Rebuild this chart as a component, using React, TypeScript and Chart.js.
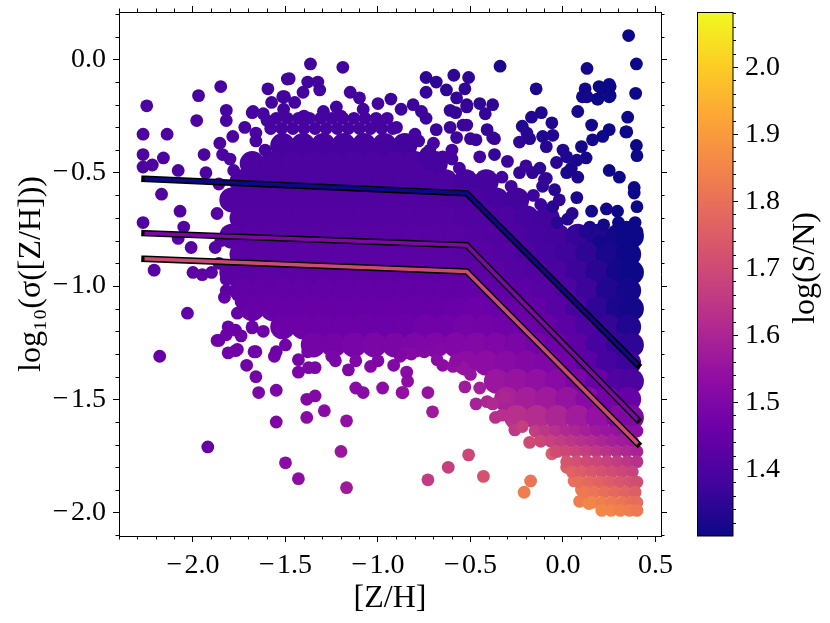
import React, { useEffect, useRef } from "react";
import { Chart, registerables } from "chart.js";

Chart.register(...registerables);

// ---------- axes & ticks ----------
const xRange = [-2.4, 0.53];
const yRange = [-2.103, 0.209];
const cbRange = [1.3, 2.082];
const xTicks = [-2.0, -1.5, -1.0, -0.5, 0.0, 0.5];
const yTicks = [-2.0, -1.5, -1.0, -0.5, 0.0];
const cbTicks = [1.4, 1.5, 1.6, 1.7, 1.8, 1.9, 2.0];
const xLabel = "[Z/H]";
const yLabel = "log₁₀(σ([Z/H]))";
const cbLabel = "log(S/N)";

// ---------- fitted broken lines ----------
const fitX = [-2.262, -0.52, 0.404];
const fitHigh = [-0.527, -0.591, -1.348];
const fitMid = [-0.767, -0.82, -1.59];
const fitLow = [-0.88, -0.936, -1.696];
const fitC = [1.3, 1.5, 1.7];

// ---------- individual (sparse) measurements: [Z/H], log sigma, log S/N ----------
const scatterPoints: [number, number, number][] = [
  [-2.25, -0.205, 1.4], [-2.27, -0.33, 1.4], [-2.14, -0.33, 1.4], [-2.27, -0.42, 1.4],
  [-2.16, -0.435, 1.4], [-2.27, -0.475, 1.4], [-2.22, -0.466, 1.4], [-2.08, -0.49, 1.4],
  [-1.93, -0.5, 1.4], [-1.94, -0.42, 1.4], [-2.17, -0.595, 1.41], [-2.07, -0.67, 1.41],
  [-2.27, -0.72, 1.41], [-2.05, -0.74, 1.41], [-1.97, -0.16, 1.39], [-1.85, -0.12, 1.39],
  [-1.98, -0.27, 1.4], [-1.82, -0.225, 1.39], [-1.82, -0.27, 1.39], [-1.68, -0.235, 1.39],
  [-1.595, -0.13, 1.38], [-1.49, -0.087, 1.38], [-1.515, -0.165, 1.38], [-1.855, -0.37, 1.4],
  [-1.785, -0.34, 1.4], [-1.66, -0.325, 1.4], [-2.01, -0.83, 1.42], [-1.88, -0.83, 1.42],
  [-2.08, -0.79, 1.42], [-2.21, -0.93, 1.42], [-2.0, -0.94, 1.43], [-1.95, -0.95, 1.43],
  [-1.9, -0.94, 1.43], [-1.82, -0.97, 1.43], [-1.82, -1.02, 1.43], [-1.74, -1.07, 1.44],
  [-2.03, -1.12, 1.44], [-1.81, -1.18, 1.45], [-1.86, -1.24, 1.45], [-1.76, -1.28, 1.46],
  [-1.68, -1.18, 1.45], [-1.66, -1.29, 1.46], [-1.55, -1.29, 1.46], [-2.18, -1.31, 1.45],
  [-1.87, -1.24, 1.46], [-1.82, -1.215, 1.46], [-1.77, -1.195, 1.46], [-1.74, -1.22, 1.46],
  [-1.68, -1.185, 1.46], [-1.81, -1.295, 1.47], [-1.77, -1.285, 1.47], [-1.71, -1.35, 1.47],
  [-1.67, -1.29, 1.47], [-1.66, -1.4, 1.48], [-1.56, -1.31, 1.47], [-1.645, -1.47, 1.49],
  [-1.55, -1.46, 1.49], [-1.55, -1.6, 1.5], [-1.385, -1.5, 1.51], [-1.34, -1.485, 1.51],
  [-1.385, -1.58, 1.52], [-1.29, -1.55, 1.52], [-1.17, -1.595, 1.54], [-1.92, -1.71, 1.45],
  [-1.5, -1.78, 1.52], [-1.43, -1.85, 1.53], [-1.2, -1.73, 1.56], [-1.17, -1.89, 1.57],
  [-1.43, -1.38, 1.49], [-1.43, -1.325, 1.48], [-1.34, -1.36, 1.49], [-1.375, -1.36, 1.49],
  [-1.23, -1.33, 1.49], [-1.16, -1.37, 1.5], [-1.12, -1.45, 1.52], [-1.08, -1.47, 1.52],
  [-0.975, -1.45, 1.53], [-0.87, -1.47, 1.54], [-0.84, -1.42, 1.53], [-0.845, -1.38, 1.52],
  [-1.04, -1.355, 1.51], [-0.915, -1.35, 1.51],
  [-0.73, -1.47, 1.55], [-0.705, -1.555, 1.57], [-0.51, -1.745, 1.69], [-0.62, -1.8, 1.67],
  [-0.73, -1.855, 1.66], [-0.43, -1.84, 1.72], [-0.175, -1.86, 1.81], [-0.21, -1.91, 1.83],
  [-0.365, -1.58, 1.63], [-0.315, -1.49, 1.6], [-0.06, -1.74, 1.75], [0.09, -1.95, 1.83],
  [-0.855, -1.295, 1.51], [-0.82, -1.3, 1.51], [-0.75, -1.29, 1.51], [-0.865, -1.47, 1.54],
  [-0.68, -1.325, 1.52], [-0.65, -1.35, 1.53], [-0.595, -1.355, 1.54], [-0.54, -1.36, 1.55],
  [-0.53, -1.445, 1.57], [-0.47, -1.52, 1.59], [-0.41, -1.51, 1.6], [-0.26, -1.635, 1.65],
  [-0.18, -1.69, 1.7],
  [-0.45, -1.45, 1.58], [-0.38, -1.52, 1.61], [-0.33, -1.57, 1.63], [-0.22, -1.62, 1.67],
  [-0.12, -1.68, 1.71], [-0.03, -1.73, 1.74], [0.02, -1.8, 1.755], [0.06, -1.86, 1.8],
  [0.1, -1.9, 1.82], [0.14, -1.96, 1.85],
  [0.355, 0.105, 1.3], [0.397, -0.02, 1.3], [0.393, -0.15, 1.3], [0.13, -0.04, 1.31],
  [0.12, -0.13, 1.31], [0.105, -0.165, 1.31], [0.21, -0.13, 1.3], [0.255, -0.12, 1.3],
  [0.255, -0.16, 1.3], [0.185, -0.175, 1.3], [0.08, -0.23, 1.31], [0.35, -0.255, 1.3],
  [0.34, -0.32, 1.3], [0.155, -0.29, 1.31], [0.25, -0.31, 1.3], [0.215, -0.34, 1.3],
  [0.397, -0.38, 1.3], [-0.34, -0.03, 1.32], [-0.145, -0.13, 1.32], [-0.117, -0.235, 1.33],
  [-0.17, -0.255, 1.33], [-0.06, -0.28, 1.33], [-0.22, -0.295, 1.33], [-0.11, -0.34, 1.33],
  [-0.055, -0.335, 1.33], [-0.18, -0.35, 1.34], [-0.74, -0.08, 1.35], [-0.685, -0.1, 1.35],
  [-0.59, -0.07, 1.35], [-0.51, -0.08, 1.35], [-0.53, -0.13, 1.35], [-0.74, -0.145, 1.36],
  [-0.63, -0.135, 1.35], [-0.575, -0.17, 1.36], [-0.52, -0.2, 1.36], [-0.45, -0.195, 1.35],
  [-0.38, -0.2, 1.35], [-0.42, -0.24, 1.36], [-0.58, -0.235, 1.36], [-0.61, -0.3, 1.37],
  [-0.52, -0.29, 1.37], [-0.685, -0.31, 1.37], [-0.5, -0.35, 1.37], [-0.41, -0.31, 1.36],
  [-0.37, -0.35, 1.37], [-1.365, -0.02, 1.38], [-1.19, -0.035, 1.38], [-1.48, -0.085, 1.38],
  [-1.38, -0.1, 1.38], [-1.325, -0.1, 1.38], [-1.405, -0.145, 1.38], [-1.315, -0.135, 1.38],
  [-1.15, -0.145, 1.38], [-1.505, -0.165, 1.38], [-1.575, -0.19, 1.38], [-1.45, -0.19, 1.38],
  [-1.1, -0.17, 1.38], [-0.93, -0.175, 1.37], [-1.0, -0.195, 1.38], [-0.81, -0.2, 1.37],
  [-0.875, -0.22, 1.37], [-0.765, -0.23, 1.37], [-1.08, -0.22, 1.38], [-1.225, -0.21, 1.38],
  [-1.295, -0.23, 1.38], [-1.675, -0.23, 1.39], [-1.62, -0.24, 1.39], [-1.51, -0.22, 1.38],
  [-0.74, -0.26, 1.37],
  [0.195, -0.12, 1.3], [0.25, -0.11, 1.3], [0.13, -0.165, 1.31], [0.19, -0.175, 1.3],
  [0.25, -0.165, 1.3], [0.345, -0.32, 1.3], [0.16, -0.355, 1.31], [0.4, -0.425, 1.3],
  [0.1, -0.385, 1.31], [0.125, -0.435, 1.31], [0.045, -0.48, 1.32], [0.02, -0.5, 1.32],
  [0.08, -0.52, 1.32], [0.25, -0.49, 1.3], [0.305, -0.52, 1.3], [0.385, -0.565, 1.3],
  [0.385, -0.59, 1.3], [0.4, -0.65, 1.3], [0.075, -0.61, 1.32], [0.155, -0.67, 1.31],
  [0.235, -0.66, 1.31], [0.295, -0.67, 1.3], [0.025, -0.705, 1.33], [0.145, -0.74, 1.32],
  [0.3, -0.72, 1.3], [0.345, -0.74, 1.3], [0.4, -0.76, 1.3], [0.315, -0.8, 1.3],
  [0.2, -0.805, 1.31], [-0.03, -0.72, 1.34], [-0.055, -0.65, 1.34], [-0.11, -0.56, 1.35],
  [-0.045, -0.575, 1.34], [-0.09, -0.525, 1.35], [-0.165, -0.5, 1.35], [-0.235, -0.5, 1.36],
  [-0.125, -0.48, 1.35], [-0.035, -0.455, 1.34], [0.02, -0.43, 1.33], [-0.235, -0.365, 1.35],
  [-0.195, -0.325, 1.34], [-0.09, -0.385, 1.34], [0.0, -0.4, 1.33], [0.075, -0.445, 1.32],
  [-0.37, -0.42, 1.36], [-0.47, -0.355, 1.37], [-0.38, -0.345, 1.36], [-0.54, -0.29, 1.37],
  [-0.61, -0.225, 1.36], [-0.52, -0.21, 1.36], [-0.74, -0.415, 1.38], [-0.65, -0.43, 1.38],
  [-0.575, -0.345, 1.37],
  [-1.72, -0.3, 1.39], [-1.6, -0.27, 1.39], [-1.4, -0.25, 1.39], [-1.2, -0.25, 1.39],
  [-1.0, -0.27, 1.39], [-0.9, -0.3, 1.39], [-0.8, -0.33, 1.39], [-0.7, -0.37, 1.39],
  [-0.6, -0.4, 1.39], [-0.45, -0.43, 1.38], [-0.3, -0.45, 1.37], [-0.2, -0.47, 1.37],
  [-0.1, -0.53, 1.36], [-0.02, -0.62, 1.35], [0.05, -0.68, 1.34], [0.12, -0.76, 1.33],
  [0.22, -0.73, 1.31], [0.32, -0.75, 1.3], [0.39, -0.72, 1.3],
  [-1.84, -0.42, 1.4], [-1.86, -0.55, 1.41], [-1.87, -0.68, 1.42], [-1.85, -0.8, 1.42],
  [-1.86, -0.9, 1.43], [-1.83, -1.05, 1.44], [-1.76, -1.12, 1.45],
  [-1.62, -1.2, 1.46], [-1.5, -1.26, 1.47], [-1.38, -1.29, 1.48], [-1.25, -1.31, 1.49],
  [-1.12, -1.33, 1.5], [-1.0, -1.33, 1.5], [-0.88, -1.31, 1.5], [-0.76, -1.26, 1.5],
  [-0.66, -1.28, 1.51], [-0.58, -1.33, 1.53], [-0.5, -1.39, 1.55],
];

// ---------- rim of the crowded cloud (upper edge and the low-sigma, high-S/N corner) ----------
const rimPoints: [number, number, number][] = [
  [-1.55, -0.26, 1.39], [-1.49, -0.26, 1.39], [-1.43, -0.26, 1.39], [-1.37, -0.26, 1.39], [-1.31, -0.26, 1.39],
  [-1.25, -0.26, 1.39], [-1.19, -0.26, 1.39], [-1.13, -0.26, 1.39], [-1.07, -0.26, 1.39], [-1.01, -0.26, 1.39],
  [-0.95, -0.26, 1.39],
  [-1.58, -0.305, 1.39], [-1.52, -0.305, 1.39], [-1.46, -0.305, 1.39], [-1.4, -0.305, 1.39], [-1.34, -0.305, 1.39],
  [-1.28, -0.305, 1.39], [-1.22, -0.305, 1.39], [-1.16, -0.305, 1.39], [-1.1, -0.305, 1.39], [-1.04, -0.305, 1.39],
  [-0.98, -0.305, 1.39], [-0.92, -0.305, 1.39],
  [-1.66, -0.36, 1.39], [-1.61, -0.4, 1.39], [-0.78, -0.36, 1.38], [-0.72, -0.4, 1.38], [-0.75, -0.44, 1.39],
  [-1.8, -0.44, 1.4], [-1.78, -0.49, 1.4], [-0.6, -0.44, 1.39], [-0.56, -0.48, 1.39],
  [-0.33, -0.52, 1.38], [-0.28, -0.56, 1.38], [-0.16, -0.6, 1.37], [-0.12, -0.64, 1.37],
  [-0.15, -1.64, 1.66], [-0.095, -1.64, 1.645], [-0.04, -1.64, 1.63], [0.015, -1.64, 1.61], [0.07, -1.64, 1.6],
  [0.125, -1.64, 1.585], [0.18, -1.64, 1.57], [0.235, -1.64, 1.56], [0.29, -1.64, 1.55], [0.345, -1.64, 1.54],
  [0.4, -1.64, 1.53],
  [-0.12, -1.685, 1.69], [-0.065, -1.685, 1.675], [-0.01, -1.685, 1.66], [0.045, -1.685, 1.645], [0.1, -1.685, 1.63],
  [0.155, -1.685, 1.615], [0.21, -1.685, 1.6], [0.265, -1.685, 1.585], [0.32, -1.685, 1.575], [0.375, -1.685, 1.565],
  [-0.04, -1.73, 1.705], [0.015, -1.73, 1.69], [0.07, -1.73, 1.68], [0.125, -1.73, 1.665], [0.18, -1.73, 1.65],
  [0.235, -1.73, 1.635], [0.29, -1.73, 1.62], [0.345, -1.73, 1.605], [0.4, -1.73, 1.59],
  [0.02, -1.775, 1.73], [0.075, -1.775, 1.715], [0.13, -1.775, 1.7], [0.185, -1.775, 1.69], [0.24, -1.775, 1.675],
  [0.295, -1.775, 1.66], [0.35, -1.775, 1.645], [0.4, -1.775, 1.63],
  [0.05, -1.82, 1.765], [0.1, -1.82, 1.75], [0.155, -1.82, 1.735], [0.21, -1.82, 1.72], [0.265, -1.82, 1.705],
  [0.32, -1.82, 1.69], [0.375, -1.82, 1.68],
  [0.085, -1.865, 1.795], [0.14, -1.865, 1.78], [0.195, -1.865, 1.765], [0.25, -1.865, 1.75], [0.305, -1.865, 1.735],
  [0.36, -1.865, 1.72], [0.4, -1.865, 1.71],
  [0.12, -1.91, 1.82], [0.17, -1.91, 1.81], [0.225, -1.91, 1.795], [0.28, -1.91, 1.78], [0.335, -1.91, 1.77],
  [0.39, -1.91, 1.755],
  [0.16, -1.955, 1.85], [0.21, -1.955, 1.835], [0.265, -1.955, 1.82], [0.32, -1.955, 1.81], [0.37, -1.955, 1.795],
  [0.4, -1.955, 1.79],
  [0.21, -1.99, 1.855], [0.26, -1.99, 1.85], [0.31, -1.99, 1.84], [0.36, -1.99, 1.83], [0.4, -1.99, 1.82],
];

// ---------- the crowded core of the cloud: [Z/H], log sigma, log S/N ----------
const corePoints: [number, number, number][] = [
  [-1.515, -0.38, 1.39], [-1.405, -0.38, 1.39], [-1.295, -0.38, 1.39],
  [-1.185, -0.38, 1.39], [-1.075, -0.38, 1.39], [-0.965, -0.38, 1.39], [-0.855, -0.38, 1.38],
  [-1.68, -0.46, 1.4], [-1.57, -0.46, 1.4], [-1.46, -0.46, 1.4], [-1.35, -0.46, 1.4],
  [-1.24, -0.46, 1.4], [-1.13, -0.46, 1.4], [-1.02, -0.46, 1.4], [-0.91, -0.46, 1.4], [-0.8, -0.46, 1.4],
  [-0.69, -0.46, 1.39],
  [-1.735, -0.54, 1.4], [-1.625, -0.54, 1.4], [-1.515, -0.54, 1.4], [-1.405, -0.54, 1.4], [-1.295, -0.54, 1.4],
  [-1.185, -0.54, 1.4], [-1.075, -0.54, 1.4], [-0.965, -0.54, 1.4], [-0.855, -0.54, 1.4], [-0.745, -0.54, 1.4],
  [-0.635, -0.54, 1.4], [-0.525, -0.54, 1.39], [-0.415, -0.54, 1.385],
  [-1.79, -0.62, 1.41], [-1.68, -0.62, 1.41], [-1.57, -0.62, 1.41], [-1.46, -0.62, 1.41], [-1.35, -0.62, 1.41],
  [-1.24, -0.62, 1.41], [-1.13, -0.62, 1.41], [-1.02, -0.62, 1.41], [-0.91, -0.62, 1.41], [-0.8, -0.62, 1.41],
  [-0.69, -0.62, 1.41], [-0.58, -0.62, 1.4], [-0.47, -0.62, 1.395], [-0.36, -0.62, 1.39], [-0.25, -0.62, 1.38],
  [-1.735, -0.7, 1.415], [-1.625, -0.7, 1.415], [-1.515, -0.7, 1.415], [-1.405, -0.7, 1.415], [-1.295, -0.7, 1.415],
  [-1.185, -0.7, 1.415], [-1.075, -0.7, 1.415], [-0.965, -0.7, 1.415], [-0.855, -0.7, 1.415], [-0.745, -0.7, 1.415],
  [-0.635, -0.7, 1.415], [-0.525, -0.7, 1.41], [-0.415, -0.7, 1.405], [-0.305, -0.7, 1.4], [-0.195, -0.7, 1.39],
  [-0.085, -0.7, 1.38],
  [-1.79, -0.78, 1.42], [-1.68, -0.78, 1.42], [-1.57, -0.78, 1.42], [-1.46, -0.78, 1.42], [-1.35, -0.78, 1.42],
  [-1.24, -0.78, 1.42], [-1.13, -0.78, 1.42], [-1.02, -0.78, 1.42], [-0.91, -0.78, 1.42], [-0.8, -0.78, 1.42],
  [-0.69, -0.78, 1.42], [-0.58, -0.78, 1.42], [-0.47, -0.78, 1.415], [-0.36, -0.78, 1.41], [-0.25, -0.78, 1.4],
  [-0.14, -0.78, 1.39], [-0.03, -0.78, 1.38], [0.08, -0.78, 1.36], [0.19, -0.78, 1.33], [0.3, -0.78, 1.31],
  [0.37, -0.78, 1.3],
  [-1.735, -0.86, 1.425], [-1.625, -0.86, 1.425], [-1.515, -0.86, 1.425], [-1.405, -0.86, 1.425], [-1.295, -0.86, 1.425],
  [-1.185, -0.86, 1.425], [-1.075, -0.86, 1.425], [-0.965, -0.86, 1.425], [-0.855, -0.86, 1.425], [-0.745, -0.86, 1.425],
  [-0.635, -0.86, 1.425], [-0.525, -0.86, 1.42], [-0.415, -0.86, 1.42], [-0.305, -0.86, 1.415], [-0.195, -0.86, 1.4],
  [-0.085, -0.86, 1.39], [0.025, -0.86, 1.375], [0.135, -0.86, 1.35], [0.245, -0.86, 1.32], [0.355, -0.86, 1.3],
  [-1.79, -0.94, 1.43], [-1.68, -0.94, 1.43], [-1.57, -0.94, 1.43], [-1.46, -0.94, 1.43], [-1.35, -0.94, 1.43],
  [-1.24, -0.94, 1.43], [-1.13, -0.94, 1.43], [-1.02, -0.94, 1.43], [-0.91, -0.94, 1.43], [-0.8, -0.94, 1.43],
  [-0.69, -0.94, 1.43], [-0.58, -0.94, 1.43], [-0.47, -0.94, 1.43], [-0.36, -0.94, 1.425], [-0.25, -0.94, 1.415],
  [-0.14, -0.94, 1.41], [-0.03, -0.94, 1.395], [0.08, -0.94, 1.37], [0.19, -0.94, 1.34], [0.3, -0.94, 1.31],
  [0.37, -0.94, 1.3],
  [-1.735, -1.02, 1.44], [-1.625, -1.02, 1.44], [-1.515, -1.02, 1.44], [-1.405, -1.02, 1.44], [-1.295, -1.02, 1.44],
  [-1.185, -1.02, 1.44], [-1.075, -1.02, 1.44], [-0.965, -1.02, 1.44], [-0.855, -1.02, 1.44], [-0.745, -1.02, 1.44],
  [-0.635, -1.02, 1.44], [-0.525, -1.02, 1.44], [-0.415, -1.02, 1.44], [-0.305, -1.02, 1.435], [-0.195, -1.02, 1.43],
  [-0.085, -1.02, 1.42], [0.025, -1.02, 1.4], [0.135, -1.02, 1.37], [0.245, -1.02, 1.33], [0.355, -1.02, 1.31],
  [-1.68, -1.1, 1.45], [-1.57, -1.1, 1.45], [-1.46, -1.1, 1.45], [-1.35, -1.1, 1.45], [-1.24, -1.1, 1.45],
  [-1.13, -1.1, 1.45], [-1.02, -1.1, 1.45], [-0.91, -1.1, 1.45], [-0.8, -1.1, 1.45], [-0.69, -1.1, 1.45],
  [-0.58, -1.1, 1.455], [-0.47, -1.1, 1.46], [-0.36, -1.1, 1.455], [-0.25, -1.1, 1.45], [-0.14, -1.1, 1.44],
  [-0.03, -1.1, 1.42], [0.08, -1.1, 1.39], [0.19, -1.1, 1.35], [0.3, -1.1, 1.32], [0.37, -1.1, 1.31],
  [-1.515, -1.18, 1.46], [-1.405, -1.18, 1.46], [-1.295, -1.18, 1.46], [-1.185, -1.18, 1.46], [-1.075, -1.18, 1.46],
  [-0.965, -1.18, 1.46], [-0.855, -1.18, 1.46], [-0.745, -1.18, 1.47], [-0.635, -1.18, 1.47], [-0.525, -1.18, 1.48],
  [-0.415, -1.18, 1.475], [-0.305, -1.18, 1.47], [-0.195, -1.18, 1.46], [-0.085, -1.18, 1.45], [0.025, -1.18, 1.43],
  [0.135, -1.18, 1.4], [0.245, -1.18, 1.36], [0.355, -1.18, 1.33],
  [-1.35, -1.26, 1.48], [-1.24, -1.26, 1.48], [-1.13, -1.26, 1.485], [-1.02, -1.26, 1.49], [-0.91, -1.26, 1.49],
  [-0.8, -1.26, 1.495], [-0.69, -1.26, 1.5], [-0.58, -1.26, 1.505], [-0.47, -1.26, 1.51], [-0.36, -1.26, 1.5],
  [-0.25, -1.26, 1.49], [-0.14, -1.26, 1.48], [-0.03, -1.26, 1.46], [0.08, -1.26, 1.43], [0.19, -1.26, 1.39],
  [0.3, -1.26, 1.36], [0.37, -1.26, 1.35],
  [-0.525, -1.34, 1.53], [-0.415, -1.34, 1.53], [-0.305, -1.34, 1.52], [-0.195, -1.34, 1.51], [-0.085, -1.34, 1.5],
  [0.025, -1.34, 1.47], [0.135, -1.34, 1.43], [0.245, -1.34, 1.39], [0.355, -1.34, 1.37],
  [-0.36, -1.42, 1.56], [-0.25, -1.42, 1.55], [-0.14, -1.42, 1.54], [-0.03, -1.42, 1.52], [0.08, -1.42, 1.49],
  [0.19, -1.42, 1.45], [0.3, -1.42, 1.41], [0.37, -1.42, 1.4],
  [-0.305, -1.5, 1.59], [-0.195, -1.5, 1.58], [-0.085, -1.5, 1.57], [0.025, -1.5, 1.55], [0.135, -1.5, 1.52],
  [0.245, -1.5, 1.48], [0.355, -1.5, 1.45],
  [-0.25, -1.58, 1.63], [-0.14, -1.58, 1.62], [-0.03, -1.58, 1.6], [0.08, -1.58, 1.575], [0.19, -1.58, 1.545],
  [0.3, -1.58, 1.51], [0.37, -1.58, 1.5],
];

// ---------- plasma colormap ----------
const PLASMA = [
  [13, 8, 135], [65, 4, 157], [106, 0, 168], [143, 13, 164], [177, 42, 144],
  [204, 71, 120], [225, 100, 98], [242, 132, 75], [252, 166, 54], [252, 206, 37], [240, 249, 33],
];
function plasma(t: number): string {
  const u = Math.min(1, Math.max(0, t)) * (PLASMA.length - 1);
  const i = Math.min(PLASMA.length - 2, Math.floor(u));
  const f = u - i;
  const a = PLASMA[i], b = PLASMA[i + 1];
  const r = Math.round(a[0] + (b[0] - a[0]) * f);
  const g = Math.round(a[1] + (b[1] - a[1]) * f);
  const bl = Math.round(a[2] + (b[2] - a[2]) * f);
  return `rgb(${r},${g},${bl})`;
}
const colorOf = (c: number) => plasma((c - cbRange[0]) / (cbRange[1] - cbRange[0]));

const FONT = "'Liberation Serif', 'DejaVu Serif', serif";
const fmt = (v: number) => (v < -1e-9 ? "\u2212\u200A" : "") + Math.abs(v).toFixed(1);

const decorPlugin = {
  id: "decor",
  afterDraw(chart: any) {
    const ctx: CanvasRenderingContext2D = chart.ctx;
    const { left, right, top, bottom } = chart.chartArea;
    const xs = chart.scales.x;
    const ys = chart.scales.y;
    ctx.save();
    ctx.strokeStyle = "#000";
    ctx.lineWidth = 1;
    const seg = (x1: number, y1: number, x2: number, y2: number) => {
      ctx.beginPath();
      ctx.moveTo(x1, y1);
      ctx.lineTo(x2, y2);
      ctx.stroke();
    };
    // minor ticks on all four sides
    for (let k = -24; k <= 5; k++) {
      if (k % 5 === 0) continue;
      const p = Math.round(xs.getPixelForValue(k / 10)) + 0.5;
      if (p < left || p > right) continue;
      seg(p, bottom, p, bottom + 3.5);
      seg(p, top, p, top - 3.5);
    }
    for (let k = -21; k <= 2; k++) {
      if (k % 5 === 0) continue;
      const p = Math.round(ys.getPixelForValue(k / 10)) + 0.5;
      if (p < top || p > bottom) continue;
      seg(left, p, left - 3.5, p);
      seg(right, p, right + 3.5, p);
    }
    // colour bar
    const cbL = 697.5, cbR = 733;
    const grad = ctx.createLinearGradient(0, bottom, 0, top);
    PLASMA.forEach((c, i) => grad.addColorStop(i / (PLASMA.length - 1), `rgb(${c[0]},${c[1]},${c[2]})`));
    ctx.fillStyle = grad;
    ctx.fillRect(cbL, top, cbR - cbL, bottom - top);
    ctx.strokeRect(cbL, top + 0.5, cbR - cbL, bottom - top - 0.5);
    const cbPix = (v: number) => bottom - ((v - cbRange[0]) / (cbRange[1] - cbRange[0])) * (bottom - top);
    for (let k = 66; k <= 104; k++) {
      const v = k / 50;
      if (v > cbRange[1]) break;
      const p = Math.round(cbPix(v)) + 0.5;
      const major = k % 5 === 0;
      seg(cbR, p, cbR + (major ? 5 : 3), p);
    }
    ctx.fillStyle = "#000";
    ctx.font = `28px ${FONT}`;
    ctx.textAlign = "left";
    ctx.textBaseline = "middle";
    cbTicks.forEach((v) => ctx.fillText(fmt(v), cbR + 12, cbPix(v) + 1));
    ctx.translate(806, (top + bottom) / 2 - 6);
    ctx.rotate(-Math.PI / 2);
    ctx.font = `32px ${FONT}`;
    ctx.textAlign = "center";
    ctx.textBaseline = "middle";
    ctx.fillText(cbLabel, 0, 0);
    ctx.restore();
  },
};

const noPad = (s: any) => {
  s.paddingTop = 0;
  s.paddingBottom = 0;
  s.paddingLeft = 0;
  s.paddingRight = 0;
};

export default function App() {
  const ref = useRef<HTMLCanvasElement | null>(null);
  useEffect(() => {
    if (!ref.current) return;
    Chart.defaults.font.family = FONT;
    Chart.defaults.color = "#000";
    const lineDs = (ys: number[], color: string, width: number, cap: string, order: number) => ({
      type: "line" as const,
      data: fitX.map((x, i) => ({ x, y: ys[i] })),
      borderColor: color,
      borderWidth: width,
      borderCapStyle: cap,
      borderJoinStyle: "miter",
      pointRadius: 0,
      fill: false,
      tension: 0,
      showLine: true,
      order,
    });
    const axisCommon = {
      type: "linear" as const,
      border: { display: true, color: "#000", width: 1 },
      grid: { drawOnChartArea: false, drawTicks: true, tickLength: 6, color: "#000", tickColor: "#000", lineWidth: 1 },
    };
    const small = [...scatterPoints, ...rimPoints];
    const chart = new Chart(ref.current, {
      type: "scatter",
      data: {
        datasets: [
          {
            data: corePoints.map((p) => ({ x: p[0], y: p[1] })),
            pointBackgroundColor: corePoints.map((p) => colorOf(p[2])),
            pointBorderWidth: 0,
            pointRadius: 12.5,
            order: 10,
          } as any,
          {
            data: small.map((p) => ({ x: p[0], y: p[1] })),
            pointBackgroundColor: small.map((p) => colorOf(p[2])),
            pointBorderWidth: 0,
            pointRadius: 6.4,
            order: 9,
          } as any,
          lineDs(fitHigh, "#000", 6.5, "square", 6) as any,
          lineDs(fitHigh, colorOf(fitC[0]), 3.5, "butt", 5) as any,
          lineDs(fitMid, "#000", 6.5, "square", 4) as any,
          lineDs(fitMid, colorOf(fitC[1]), 3.5, "butt", 3) as any,
          lineDs(fitLow, "#000", 6.5, "square", 2) as any,
          lineDs(fitLow, colorOf(fitC[2]), 3.5, "butt", 1) as any,
        ],
      },
      options: {
        animation: false,
        responsive: true,
        maintainAspectRatio: false,
        events: [],
        layout: { padding: 0, autoPadding: false },
        plugins: { legend: { display: false }, tooltip: { enabled: false } },
        scales: {
          x: {
            ...axisCommon,
            position: "bottom",
            min: xRange[0],
            max: xRange[1],
            afterBuildTicks: (s: any) => { s.ticks = xTicks.map((v) => ({ value: v })); },
            afterFit: (s: any) => { s.height = 87; noPad(s); },
            ticks: { callback: (v: any) => fmt(Number(v)), font: { size: 28 }, padding: 7, maxRotation: 0, autoSkip: false },
            title: { display: true, text: xLabel, font: { size: 32 }, padding: { top: 0, bottom: 5 } },
          },
          x2: {
            ...axisCommon,
            position: "top",
            min: xRange[0],
            max: xRange[1],
            afterBuildTicks: (s: any) => { s.ticks = xTicks.map((v) => ({ value: v })); },
            afterFit: (s: any) => { s.height = 12; noPad(s); },
            ticks: { display: false },
          },
          y: {
            ...axisCommon,
            position: "left",
            min: yRange[0],
            max: yRange[1],
            afterBuildTicks: (s: any) => { s.ticks = yTicks.map((v) => ({ value: v })); },
            afterFit: (s: any) => { s.width = 119; noPad(s); },
            ticks: { callback: (v: any) => fmt(Number(v)), font: { size: 28 }, padding: 7, autoSkip: false },
            title: { display: true, text: yLabel, font: { size: 32 }, padding: { top: 12, bottom: 0 } },
          },
          y2: {
            ...axisCommon,
            position: "right",
            min: yRange[0],
            max: yRange[1],
            afterBuildTicks: (s: any) => { s.ticks = yTicks.map((v) => ({ value: v })); },
            afterFit: (s: any) => { s.width = 169; noPad(s); },
            ticks: { display: false },
          },
        },
      } as any,
      plugins: [decorPlugin],
    });
    return () => chart.destroy();
  }, []);
  return (
    <div style={{ position: "fixed", left: 0, top: 0, width: 830, height: 623, background: "#fff" }}>
      <canvas ref={ref} />
    </div>
  );
}
